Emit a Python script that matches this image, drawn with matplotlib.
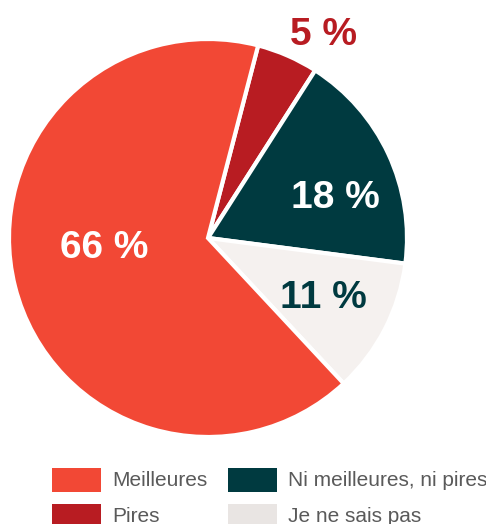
import matplotlib.pyplot as plt
from matplotlib.patches import Rectangle

# categories and shares (%)
labels = ["Pires", "Ni meilleures, ni pires", "Je ne sais pas", "Meilleures"]
values = [5, 18, 11, 66]
colors = ["#b81c22", "#003a40", "#f5f1ef", "#f24835"]
text_colors = ["#b81c22", "white", "#003a40", "white"]

# legend order as shown in the picture
legend_order = ["Meilleures", "Ni meilleures, ni pires", "Pires", "Je ne sais pas"]

plt.rcParams['font.family'] = ['Liberation Sans', 'DejaVu Sans']

W, H = 486, 524
fig = plt.figure(figsize=(W / 100, H / 100), dpi=100)

# pie area: centre ~ (208, 238) px, radius ~ 199 px
cx, cy, r = 208, 238, 199
ax = fig.add_axes([(cx - r) / W, (H - cy - r) / H, 2 * r / W, 2 * r / H])
wedges, _ = ax.pie(values, colors=colors, startangle=75.4, counterclock=False,
                   wedgeprops=dict(edgecolor="white", linewidth=3))
ax.set_xlim(-1, 1)
ax.set_ylim(-1, 1)
ax.set_aspect("equal")
ax.axis("off")

# label positions (data coords of the pie axes)
label_pos = [(0.58, 1.02), (0.64, 0.20), (0.58, -0.30), (-0.52, -0.05)]
for v, (x, y), c in zip(values, label_pos, text_colors):
    ax.text(x, y, "%d %%" % v, color=c, fontsize=28, fontweight="bold",
            ha="center", va="center", clip_on=False)

# legend drawn by hand
col_x = [52, 228]
row_y = [468, 504]
for i, name in enumerate(legend_order):
    col, row = i % 2, i // 2
    x0, y0 = col_x[col], row_y[row]
    c = colors[labels.index(name)]
    if name == "Je ne sais pas":
        c = "#e9e5e3"
    fig.patches.append(Rectangle((x0 / W, 1 - (y0 + 24) / H), 49 / W, 24 / H,
                                 transform=fig.transFigure, facecolor=c,
                                 edgecolor="none"))
    fig.text((x0 + 60) / W, 1 - (y0 + 13) / H, name, color="#5a5a5a",
             fontsize=15, va="center", ha="left")

fig.savefig("out.png", dpi=100)
